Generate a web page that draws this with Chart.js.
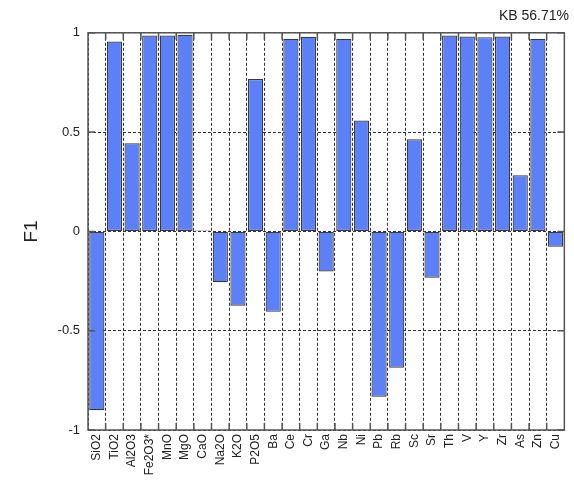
<!DOCTYPE html>
<html>
<head>
<meta charset="utf-8">
<script src="https://cdn.jsdelivr.net/npm/chart.js@4.4.0/dist/chart.umd.min.js"></script>
<style>
  html, body { margin: 0; padding: 0; background: #fff; }
  #wrap { width: 574px; height: 485px; position: relative; }
</style>
</head>
<body>
<div id="wrap"><canvas id="chart"></canvas></div>
<script>
const categories = [
  "SiO2", "TiO2", "Al2O3", "Fe2O3*", "MnO", "MgO", "CaO", "Na2O", "K2O", "P2O5",
  "Ba", "Ce", "Cr", "Ga", "Nb", "Ni", "Pb", "Rb", "Sc", "Sr",
  "Th", "V", "Y", "Zr", "As", "Zn", "Cu",
];

const f1Values = [
  -0.9, 0.956, 0.444, 0.986, 0.986, 0.99, 0.005, -0.256, -0.374, 0.767,
  -0.405, 0.97, 0.98, -0.202, 0.97, 0.558, -0.832, -0.686, 0.464, -0.233,
  0.986, 0.981, 0.978, 0.981, 0.283, 0.97, -0.077,
];

const yTicks = [-1, -0.5, 0, 0.5, 1];
const titleText = "KB 56.71%";

const frameColor = "#555555";

// draws the box round the plot and the inward tick marks
const framePlugin = {
  id: "frame",
  afterDatasetsDraw(chart) {
    const { ctx, chartArea: a, scales } = chart;
    ctx.save();
    ctx.strokeStyle = frameColor;
    ctx.lineWidth = 1.5;
    ctx.setLineDash([]);
    ctx.strokeRect(a.left, a.top, a.right - a.left, a.bottom - a.top);

    const tick = 7;
    ctx.beginPath();
    for (let i = 1; i < categories.length; i++) {
      const x = (scales.x.getPixelForValue(i - 1) + scales.x.getPixelForValue(i)) / 2;
      ctx.moveTo(x, a.bottom);
      ctx.lineTo(x, a.bottom - tick);
      ctx.moveTo(x, a.top);
      ctx.lineTo(x, a.top + tick);
    }
    yTicks.forEach((v) => {
      const y = scales.y.getPixelForValue(v);
      ctx.moveTo(a.left, y);
      ctx.lineTo(a.left + tick, y);
      ctx.moveTo(a.right, y);
      ctx.lineTo(a.right - tick, y);
    });
    ctx.stroke();
    ctx.restore();
  },
};

new Chart(document.getElementById("chart"), {
  type: "bar",
  data: {
    labels: categories,
    datasets: [
      {
        label: "F1",
        data: f1Values,
        backgroundColor: "#5b80f8",
        borderColor: "#3a3a3a",
        borderWidth: 1.2,
        borderSkipped: false,
        categoryPercentage: 1,
        barPercentage: 0.86,
      },
    ],
  },
  options: {
    responsive: true,
    maintainAspectRatio: false,
    animation: false,
    layout: { padding: { left: 0, right: 5, top: 0, bottom: 0 } },
    plugins: {
      legend: { display: false },
      tooltip: { enabled: false },
      title: {
        display: true,
        text: titleText,
        align: "end",
        color: "#222",
        font: { family: "Liberation Sans, Arial, sans-serif", size: 14, weight: "normal" },
        padding: { top: 8, bottom: 8 },
      },
    },
    scales: {
      x: {
        offset: true,
        grid: {
          offset: true,
          color: "#333",
          lineWidth: 1,
          drawTicks: false,
        },
        border: { display: false, dash: [3, 2] },
        ticks: {
          color: "#222",
          maxRotation: 90,
          minRotation: 90,
          autoSkip: false,
          padding: 4,
          font: { family: "Liberation Sans, Arial, sans-serif", size: 12 },
        },
        afterFit: (scale) => { scale.height = 55; },
      },
      y: {
        min: -1,
        max: 1,
        afterBuildTicks: (scale) => {
          scale.ticks = yTicks.map((v) => ({ value: v }));
        },
        grid: {
          color: "#333",
          lineWidth: 1,
          drawTicks: false,
        },
        border: { display: false, dash: [3, 2] },
        ticks: {
          color: "#222",
          padding: 8,
          font: { family: "Liberation Sans, Arial, sans-serif", size: 13 },
          callback: (v) => String(v),
        },
        title: {
          display: true,
          text: "F1",
          color: "#222",
          font: { family: "Liberation Sans, Arial, sans-serif", size: 19 },
          padding: { top: 20, bottom: 12 },
        },
        afterFit: (scale) => { scale.width = 88; },
      },
    },
  },
  plugins: [framePlugin],
});
</script>
</body>
</html>
